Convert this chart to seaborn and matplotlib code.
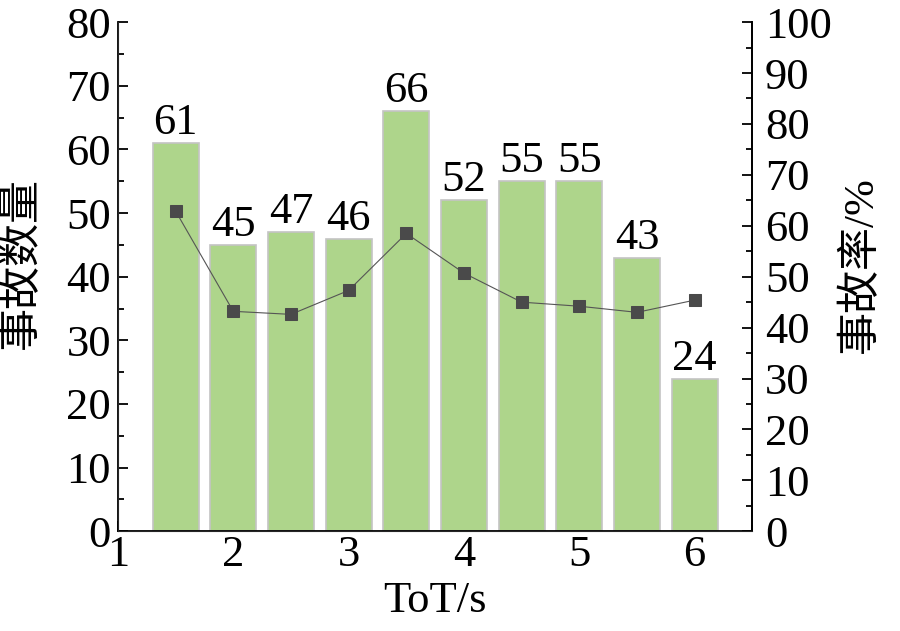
import pandas as pd
import matplotlib
matplotlib.use('Agg')
import matplotlib.pyplot as plt
import seaborn as sns
from matplotlib.ticker import MultipleLocator

# 数据
tot = [1.5, 2.0, 2.5, 3.0, 3.5, 4.0, 4.5, 5.0, 5.5, 6.0]
accident_count = [61, 45, 47, 46, 66, 52, 55, 55, 43, 24]
accident_rate = [62.9, 43.2, 42.6, 47.3, 58.5, 50.7, 45.0, 44.2, 43.0, 45.4]

df = pd.DataFrame({'ToT': tot, 'count': accident_count, 'rate': accident_rate})

sns.set_style('ticks')
plt.rcParams['font.family'] = ['Liberation Serif', 'Noto Sans CJK SC']
plt.rcParams['axes.unicode_minus'] = False
for k in ['text.color', 'axes.labelcolor', 'xtick.color', 'ytick.color']:
    plt.rcParams[k] = 'black'

fs = 32

fig = plt.figure(figsize=(9, 6.31), dpi=100)
ax = fig.add_axes([0.131, 0.158, 0.705, 0.807])

sns.barplot(x='ToT', y='count', data=df, native_scale=True, color='#aed58b',
            saturation=1, edgecolor='#c4c4c4', linewidth=1.2, width=0.8, ax=ax)
ax.bar_label(ax.containers[0], fontsize=fs, padding=0)

ax.set_xlim(1, 6.5)
ax.set_ylim(0, 80)
ax.xaxis.set_major_locator(MultipleLocator(1))
ax.xaxis.set_minor_locator(MultipleLocator(0.5))
ax.yaxis.set_major_locator(MultipleLocator(10))
ax.yaxis.set_minor_locator(MultipleLocator(5))
ax.set_xlabel('ToT/s', fontsize=fs, labelpad=4)
ax.set_ylabel('事故数量', fontsize=31)
ax.yaxis.set_label_coords(-0.12, 0.527)
ax.tick_params(which='major', direction='in', length=7, width=1.3, labelsize=fs, pad=5)
ax.tick_params(which='minor', direction='in', length=4, width=1.3)
ax.tick_params(axis='x', which='major', pad=3)
ax.spines['top'].set_visible(False)
for s in ['left', 'bottom', 'right']:
    ax.spines[s].set_linewidth(1.3)
    ax.spines[s].set_color('black')

ax2 = ax.twinx()
sns.lineplot(x='ToT', y='rate', data=df, ax=ax2, color='#555555', linewidth=0.8,
             marker='s', markersize=8.5, markerfacecolor='#4a4a4a',
             markeredgecolor='#4a4a4a')
ax2.set_ylim(0, 100)
ax2.yaxis.set_major_locator(MultipleLocator(10))
ax2.yaxis.set_minor_locator(MultipleLocator(5))
ax2.set_ylabel('事故率/%', fontsize=31)
ax2.yaxis.set_label_coords(1.139, 0.523)
ax2.tick_params(which='major', direction='in', length=7, width=1.3, labelsize=fs, pad=9)
ax2.tick_params(which='minor', direction='in', length=4, width=1.3)
ax2.spines['top'].set_visible(False)
ax2.spines['right'].set_linewidth(1.3)
ax2.spines['right'].set_color('black')

fig.savefig('out.png', dpi=100)
